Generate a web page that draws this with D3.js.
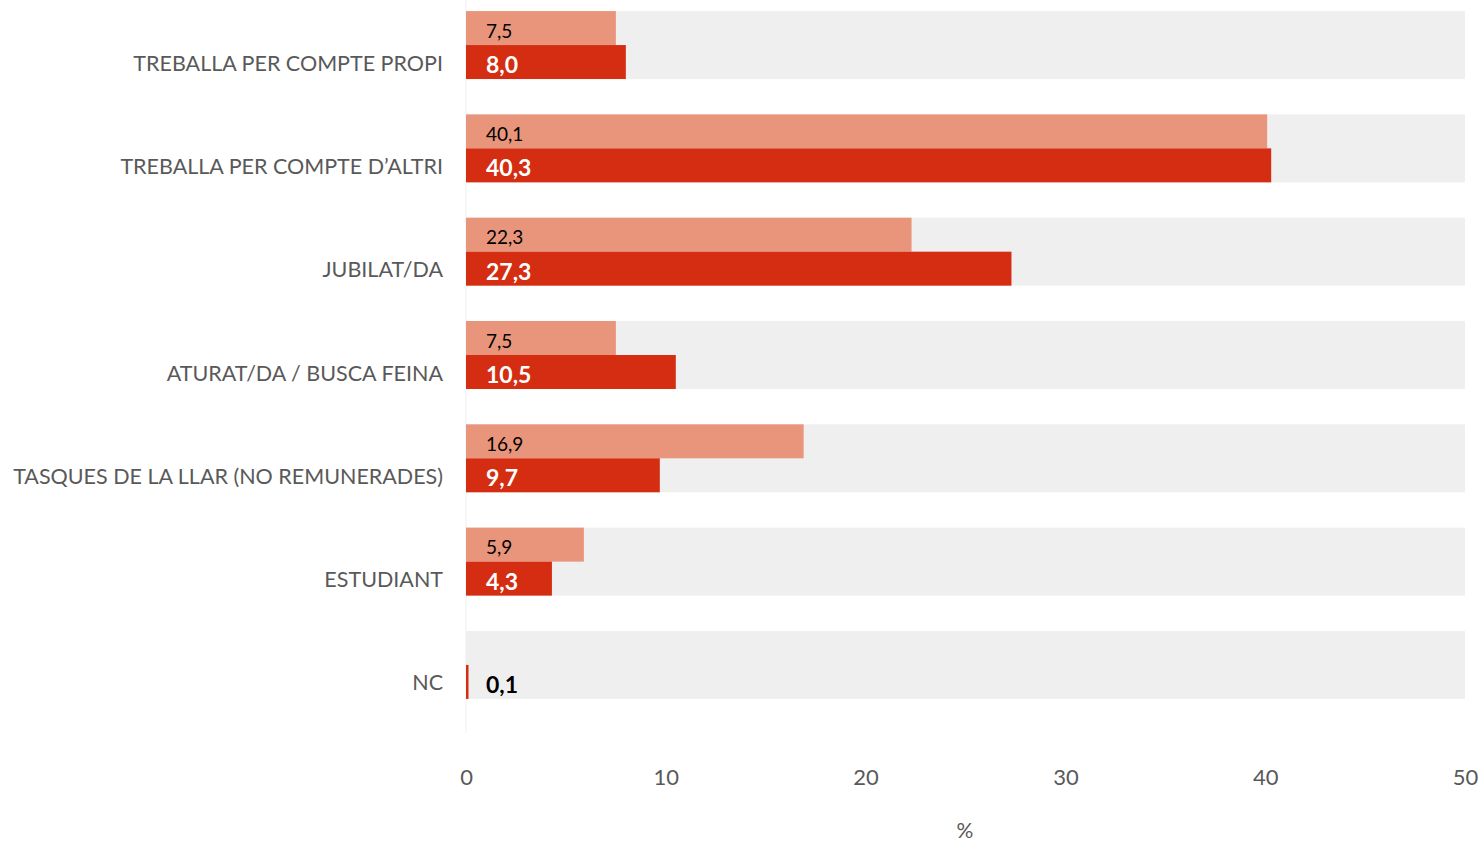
<!DOCTYPE html>
<html><head><meta charset="utf-8">
<script src="https://cdn.jsdelivr.net/npm/d3@7"></script>
<style>body{margin:0;background:#fff;} text{font-family:Lato, "Open Sans", sans-serif;}</style>
</head><body>
<svg id="c" width="1483" height="843"></svg>
<script>
const categories = ["TREBALLA PER COMPTE PROPI","TREBALLA PER COMPTE D\u2019ALTRI","JUBILAT/DA","ATURAT/DA / BUSCA FEINA","TASQUES DE LA LLAR (NO REMUNERADES)","ESTUDIANT","NC"];
const seriesLight = [7.5, 40.1, 22.3, 7.5, 16.9, 5.9, 0];
const seriesDark = [8.0, 40.3, 27.3, 10.5, 9.7, 4.3, 0.1];
const xTicks = [0, 10, 20, 30, 40, 50];
const axisTitle = "%";

const svg = d3.select("#c");
const x = d3.scaleLinear().domain([0, 50]).range([466, 1465]);
const y = d3.scaleBand().domain(categories).range([-6.6, 716.6]).paddingInner(0.342).paddingOuter(0.171);
const fmt = v => d3.format(".1f")(v).replace(".", ",");

// faint axis line
svg.append("line").attr("x1", x(0)).attr("x2", x(0)).attr("y1", 0).attr("y2", 733)
  .attr("stroke", "#efefef").attr("stroke-width", 1);

const g = svg.append("g");
categories.forEach((c, i) => {
  const y0 = y(c), bw = y.bandwidth(), h = bw / 2;
  g.append("rect").attr("x", x(0)).attr("y", y0).attr("width", x(50) - x(0)).attr("height", bw).attr("fill", "#efefef");
  if (seriesLight[i] > 0) {
    g.append("rect").attr("x", x(0)).attr("y", y0).attr("width", x(seriesLight[i]) - x(0)).attr("height", h).attr("fill", "#e8957c");
    g.append("text").attr("x", 486).attr("y", y0 + h / 2 + 3).attr("dy", "0.35em")
      .attr("font-size", 19).attr("fill", "#000").text(fmt(seriesLight[i]));
  }
  const dw = Math.max(x(seriesDark[i]) - x(0), 2.5);
  g.append("rect").attr("x", x(0)).attr("y", y0 + h).attr("width", dw).attr("height", h).attr("fill", "#d42d12");
  g.append("text").attr("x", 486).attr("y", y0 + h * 1.5 + 3).attr("dy", "0.35em")
    .attr("font-size", 23).attr("font-weight", "bold")
    .attr("fill", seriesDark[i] < 1 ? "#000" : "#fff").text(fmt(seriesDark[i]));
  g.append("text").attr("x", 443).attr("y", y0 + h * 1.5 + 1).attr("dy", "0.35em").attr("text-anchor", "end")
    .attr("font-size", 21.5).attr("fill", "#595959").text(c);
});

const xa = svg.append("g").attr("transform", "translate(0,777)")
  .call(d3.axisBottom(x).tickValues(xTicks).tickSize(0).tickPadding(0).tickFormat(d3.format("d")));
xa.select(".domain").remove();
xa.selectAll("text").attr("font-size", 22).attr("fill", "#595959").attr("dy", "0.35em")
  .style("font-family", "Lato, sans-serif");

svg.append("text").attr("x", 965).attr("y", 831).attr("dy", "0.35em").attr("text-anchor", "middle")
  .attr("font-size", 21).attr("fill", "#595959").text(axisTitle);
</script>
</body></html>
